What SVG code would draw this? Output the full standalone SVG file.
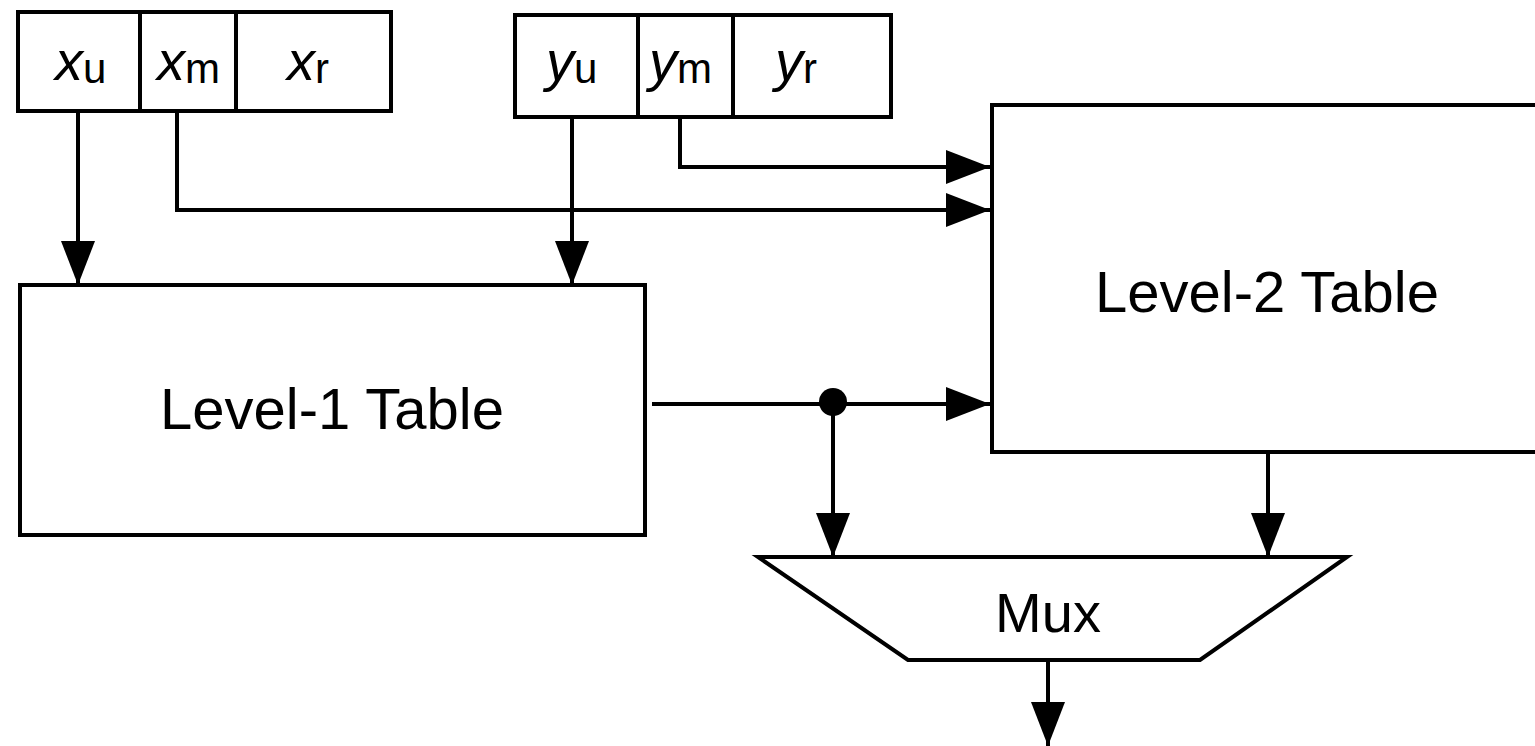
<svg xmlns="http://www.w3.org/2000/svg" width="1535" height="746" viewBox="0 0 1535 746">
<style>
.box{fill:#fff;stroke:#000;stroke-width:4}
.ln{fill:none;stroke:#000;stroke-width:4}
.t{font-family:"Liberation Sans",Arial,sans-serif;fill:#000}
.big{font-size:58px}
.mux{font-size:56px}
.var{font-size:56px;font-style:italic}
.sub{font-size:42px;font-style:normal}
</style>
<defs>
<marker id="ah" viewBox="0 0 44 34" refX="44" refY="17" markerWidth="44" markerHeight="34" markerUnits="userSpaceOnUse" orient="auto">
<path d="M0,0 L44,17 L0,34 Z" fill="#000"/>
</marker>
</defs>
<rect width="1535" height="746" fill="#fff"/>
<g id="xreg">
<rect class="box" x="18" y="12" width="373" height="99"/>
<line class="ln" x1="140" y1="12" x2="140" y2="111"/>
<line class="ln" x1="236" y1="12" x2="236" y2="111"/>
<text class="t var" x="55" y="80">x<tspan class="sub" dy="3">u</tspan></text>
<text class="t var" x="157" y="80">x<tspan class="sub" dy="3">m</tspan></text>
<text class="t var" x="287" y="80">x<tspan class="sub" dy="3">r</tspan></text>
</g>
<g id="yreg">
<rect class="box" x="515" y="15" width="376" height="102"/>
<line class="ln" x1="638" y1="15" x2="638" y2="117"/>
<line class="ln" x1="733" y1="15" x2="733" y2="117"/>
<text class="t var" x="546" y="80">y<tspan class="sub" dy="3">u</tspan></text>
<text class="t var" x="649" y="80">y<tspan class="sub" dy="3">m</tspan></text>
<text class="t var" x="775" y="80">y<tspan class="sub" dy="3">r</tspan></text>
</g>
<g id="level1">
<rect class="box" x="20" y="285" width="625" height="250"/>
<text class="t big" x="332" y="429" text-anchor="middle">Level-1 Table</text>
</g>
<g id="level2">
<rect class="box" x="992" y="105" width="560" height="347"/>
<text class="t big" x="1267" y="312" text-anchor="middle">Level-2 Table</text>
</g>
<g id="mux">
<path class="box" d="M758,557 L1347,557 L1200,660 L908,660 Z"/>
<text class="t mux" x="1048" y="632" text-anchor="middle">Mux</text>
</g>
<g id="connectors">
<path class="ln" d="M78,111 V285" marker-end="url(#ah)"/>
<path class="ln" d="M177,111 V210 H990" marker-end="url(#ah)"/>
<path class="ln" d="M572,117 V285" marker-end="url(#ah)"/>
<path class="ln" d="M680,117 V167 H990" marker-end="url(#ah)"/>
<path class="ln" d="M652,404 H990" marker-end="url(#ah)"/>
<circle cx="833" cy="402" r="14" fill="#000"/>
<path class="ln" d="M833,402 V557" marker-end="url(#ah)"/>
<path class="ln" d="M1268,452 V557" marker-end="url(#ah)"/>
<path class="ln" d="M1048,660 V746" marker-end="url(#ah)"/>
</g>
</svg>
